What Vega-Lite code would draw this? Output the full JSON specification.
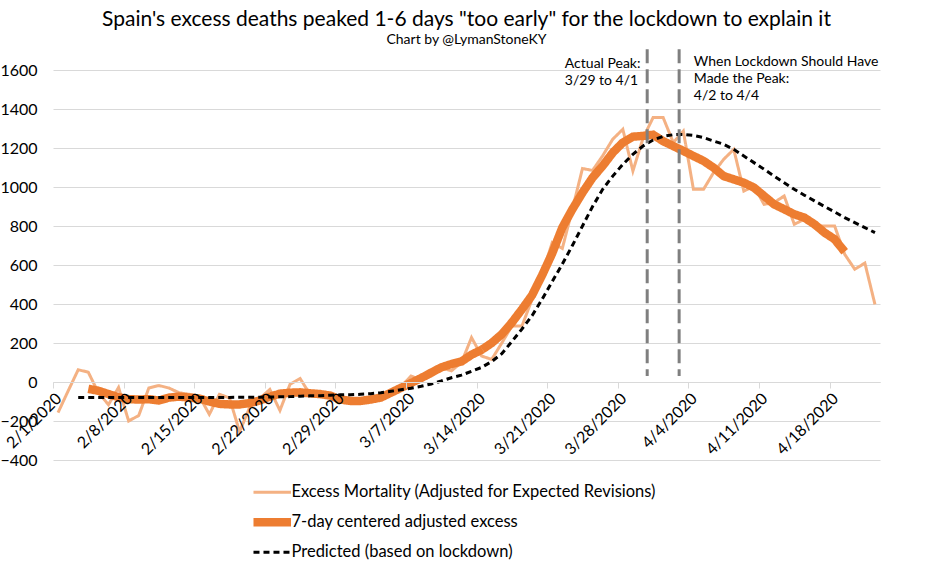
{
  "$schema": "https://vega.github.io/schema/vega-lite/v6.json",
  "width": 827,
  "height": 390,
  "autosize": "none",
  "padding": {"left": 53, "top": 70, "right": 50, "bottom": 105},
  "background": "white",
  "title": {
    "text": "Spain's excess deaths peaked 1-6 days \"too early\" for the lockdown to explain it",
    "subtitle": "Chart by @LymanStoneKY",
    "anchor": "middle",
    "frame": "group",
    "font": "Lato",
    "fontSize": 21,
    "fontWeight": "normal",
    "color": "black",
    "subtitleFont": "Lato",
    "subtitleFontSize": 14,
    "subtitleColor": "black",
    "subtitlePadding": 3,
    "offset": 1
  },
  "config": {
    "view": {"stroke": null},
    "font": "Lato",
    "axisY": {
      "labelOverlap": false,
      "domain": false,
      "ticks": false,
      "grid": true,
      "gridColor": "#d9d9d9",
      "gridWidth": 1,
      "labelFont": "Lato",
      "labelFontSize": 16,
      "labelColor": "black",
      "labelPadding": 16,
      "title": null
    },
    "legend": {
      "labelFont": "Lato",
      "labelFontSize": 16.5,
      "labelColor": "black",
      "labelLimit": 0,
      "symbolType": "M-8,0H8",
      "symbolSize": 22,
      "symbolStrokeWidth": 3,
      "rowPadding": 4,
      "labelOffset": 11
    }
  },
  "datasets": {
    "series": [
      {"d": "2020-02-01", "s": "E", "v": -157},
      {"d": "2020-02-02", "s": "E", "v": -46},
      {"d": "2020-02-03", "s": "E", "v": 63},
      {"d": "2020-02-04", "s": "E", "v": 50},
      {"d": "2020-02-05", "s": "E", "v": -55},
      {"d": "2020-02-06", "s": "E", "v": -116},
      {"d": "2020-02-07", "s": "E", "v": -28},
      {"d": "2020-02-08", "s": "E", "v": -200},
      {"d": "2020-02-09", "s": "E", "v": -172},
      {"d": "2020-02-10", "s": "E", "v": -31},
      {"d": "2020-02-11", "s": "E", "v": -18},
      {"d": "2020-02-12", "s": "E", "v": -31},
      {"d": "2020-02-13", "s": "E", "v": -55},
      {"d": "2020-02-14", "s": "E", "v": -63},
      {"d": "2020-02-15", "s": "E", "v": -72},
      {"d": "2020-02-16", "s": "E", "v": -166},
      {"d": "2020-02-17", "s": "E", "v": -63},
      {"d": "2020-02-18", "s": "E", "v": -82},
      {"d": "2020-02-19", "s": "E", "v": -255},
      {"d": "2020-02-20", "s": "E", "v": -130},
      {"d": "2020-02-21", "s": "E", "v": -85},
      {"d": "2020-02-22", "s": "E", "v": -38},
      {"d": "2020-02-23", "s": "E", "v": -146},
      {"d": "2020-02-24", "s": "E", "v": -12},
      {"d": "2020-02-25", "s": "E", "v": 18},
      {"d": "2020-02-26", "s": "E", "v": -65},
      {"d": "2020-02-27", "s": "E", "v": -65},
      {"d": "2020-02-28", "s": "E", "v": -72},
      {"d": "2020-02-29", "s": "E", "v": -95},
      {"d": "2020-03-01", "s": "E", "v": -105},
      {"d": "2020-03-02", "s": "E", "v": -100},
      {"d": "2020-03-03", "s": "E", "v": -90},
      {"d": "2020-03-04", "s": "E", "v": -80},
      {"d": "2020-03-05", "s": "E", "v": -55},
      {"d": "2020-03-06", "s": "E", "v": -25},
      {"d": "2020-03-07", "s": "E", "v": 31},
      {"d": "2020-03-08", "s": "E", "v": 10},
      {"d": "2020-03-09", "s": "E", "v": 30},
      {"d": "2020-03-10", "s": "E", "v": 74},
      {"d": "2020-03-11", "s": "E", "v": 57},
      {"d": "2020-03-12", "s": "E", "v": 100},
      {"d": "2020-03-13", "s": "E", "v": 228},
      {"d": "2020-03-14", "s": "E", "v": 133},
      {"d": "2020-03-15", "s": "E", "v": 116},
      {"d": "2020-03-16", "s": "E", "v": 200},
      {"d": "2020-03-17", "s": "E", "v": 287},
      {"d": "2020-03-18", "s": "E", "v": 287},
      {"d": "2020-03-19", "s": "E", "v": 424},
      {"d": "2020-03-20", "s": "E", "v": 552},
      {"d": "2020-03-21", "s": "E", "v": 715},
      {"d": "2020-03-22", "s": "E", "v": 685},
      {"d": "2020-03-23", "s": "E", "v": 886},
      {"d": "2020-03-24", "s": "E", "v": 1095},
      {"d": "2020-03-25", "s": "E", "v": 1085},
      {"d": "2020-03-26", "s": "E", "v": 1160},
      {"d": "2020-03-27", "s": "E", "v": 1245},
      {"d": "2020-03-28", "s": "E", "v": 1296},
      {"d": "2020-03-29", "s": "E", "v": 1082},
      {"d": "2020-03-30", "s": "E", "v": 1250},
      {"d": "2020-03-31", "s": "E", "v": 1356},
      {"d": "2020-04-01", "s": "E", "v": 1356},
      {"d": "2020-04-02", "s": "E", "v": 1228},
      {"d": "2020-04-03", "s": "E", "v": 1287},
      {"d": "2020-04-04", "s": "E", "v": 988},
      {"d": "2020-04-05", "s": "E", "v": 988},
      {"d": "2020-04-06", "s": "E", "v": 1074},
      {"d": "2020-04-07", "s": "E", "v": 1142},
      {"d": "2020-04-08", "s": "E", "v": 1193},
      {"d": "2020-04-09", "s": "E", "v": 979},
      {"d": "2020-04-10", "s": "E", "v": 1005},
      {"d": "2020-04-11", "s": "E", "v": 911},
      {"d": "2020-04-12", "s": "E", "v": 920},
      {"d": "2020-04-13", "s": "E", "v": 954},
      {"d": "2020-04-14", "s": "E", "v": 809},
      {"d": "2020-04-15", "s": "E", "v": 834},
      {"d": "2020-04-16", "s": "E", "v": 800},
      {"d": "2020-04-17", "s": "E", "v": 800},
      {"d": "2020-04-18", "s": "E", "v": 800},
      {"d": "2020-04-19", "s": "E", "v": 655},
      {"d": "2020-04-20", "s": "E", "v": 578},
      {"d": "2020-04-21", "s": "E", "v": 610},
      {"d": "2020-04-22", "s": "E", "v": 398},
      {"d": "2020-02-04", "s": "S", "v": -35},
      {"d": "2020-02-05", "s": "S", "v": -45},
      {"d": "2020-02-06", "s": "S", "v": -62},
      {"d": "2020-02-07", "s": "S", "v": -78},
      {"d": "2020-02-08", "s": "S", "v": -88},
      {"d": "2020-02-09", "s": "S", "v": -90},
      {"d": "2020-02-10", "s": "S", "v": -88},
      {"d": "2020-02-11", "s": "S", "v": -95},
      {"d": "2020-02-12", "s": "S", "v": -80},
      {"d": "2020-02-13", "s": "S", "v": -75},
      {"d": "2020-02-14", "s": "S", "v": -80},
      {"d": "2020-02-15", "s": "S", "v": -85},
      {"d": "2020-02-16", "s": "S", "v": -100},
      {"d": "2020-02-17", "s": "S", "v": -112},
      {"d": "2020-02-18", "s": "S", "v": -115},
      {"d": "2020-02-19", "s": "S", "v": -115},
      {"d": "2020-02-20", "s": "S", "v": -108},
      {"d": "2020-02-21", "s": "S", "v": -95},
      {"d": "2020-02-22", "s": "S", "v": -75},
      {"d": "2020-02-23", "s": "S", "v": -60},
      {"d": "2020-02-24", "s": "S", "v": -55},
      {"d": "2020-02-25", "s": "S", "v": -53},
      {"d": "2020-02-26", "s": "S", "v": -58},
      {"d": "2020-02-27", "s": "S", "v": -62},
      {"d": "2020-02-28", "s": "S", "v": -70},
      {"d": "2020-02-29", "s": "S", "v": -90},
      {"d": "2020-03-01", "s": "S", "v": -97},
      {"d": "2020-03-02", "s": "S", "v": -97},
      {"d": "2020-03-03", "s": "S", "v": -90},
      {"d": "2020-03-04", "s": "S", "v": -80},
      {"d": "2020-03-05", "s": "S", "v": -55},
      {"d": "2020-03-06", "s": "S", "v": -30},
      {"d": "2020-03-07", "s": "S", "v": -5},
      {"d": "2020-03-08", "s": "S", "v": 20},
      {"d": "2020-03-09", "s": "S", "v": 48},
      {"d": "2020-03-10", "s": "S", "v": 75},
      {"d": "2020-03-11", "s": "S", "v": 92},
      {"d": "2020-03-12", "s": "S", "v": 105},
      {"d": "2020-03-13", "s": "S", "v": 140},
      {"d": "2020-03-14", "s": "S", "v": 165},
      {"d": "2020-03-15", "s": "S", "v": 200},
      {"d": "2020-03-16", "s": "S", "v": 245},
      {"d": "2020-03-17", "s": "S", "v": 305},
      {"d": "2020-03-18", "s": "S", "v": 373},
      {"d": "2020-03-19", "s": "S", "v": 445},
      {"d": "2020-03-20", "s": "S", "v": 548},
      {"d": "2020-03-21", "s": "S", "v": 660},
      {"d": "2020-03-22", "s": "S", "v": 792},
      {"d": "2020-03-23", "s": "S", "v": 886},
      {"d": "2020-03-24", "s": "S", "v": 971},
      {"d": "2020-03-25", "s": "S", "v": 1048},
      {"d": "2020-03-26", "s": "S", "v": 1108},
      {"d": "2020-03-27", "s": "S", "v": 1176},
      {"d": "2020-03-28", "s": "S", "v": 1228},
      {"d": "2020-03-29", "s": "S", "v": 1258},
      {"d": "2020-03-30", "s": "S", "v": 1262},
      {"d": "2020-03-31", "s": "S", "v": 1268},
      {"d": "2020-04-01", "s": "S", "v": 1235},
      {"d": "2020-04-02", "s": "S", "v": 1210},
      {"d": "2020-04-03", "s": "S", "v": 1185},
      {"d": "2020-04-04", "s": "S", "v": 1159},
      {"d": "2020-04-05", "s": "S", "v": 1134},
      {"d": "2020-04-06", "s": "S", "v": 1099},
      {"d": "2020-04-07", "s": "S", "v": 1056},
      {"d": "2020-04-08", "s": "S", "v": 1039},
      {"d": "2020-04-09", "s": "S", "v": 1022},
      {"d": "2020-04-10", "s": "S", "v": 997},
      {"d": "2020-04-11", "s": "S", "v": 954},
      {"d": "2020-04-12", "s": "S", "v": 911},
      {"d": "2020-04-13", "s": "S", "v": 886},
      {"d": "2020-04-14", "s": "S", "v": 860},
      {"d": "2020-04-15", "s": "S", "v": 843},
      {"d": "2020-04-16", "s": "S", "v": 809},
      {"d": "2020-04-17", "s": "S", "v": 766},
      {"d": "2020-04-18", "s": "S", "v": 732},
      {"d": "2020-04-19", "s": "S", "v": 668},
      {"d": "2020-02-03", "s": "P", "v": -80},
      {"d": "2020-02-04", "s": "P", "v": -80},
      {"d": "2020-02-05", "s": "P", "v": -80},
      {"d": "2020-02-06", "s": "P", "v": -80},
      {"d": "2020-02-07", "s": "P", "v": -80},
      {"d": "2020-02-08", "s": "P", "v": -80},
      {"d": "2020-02-09", "s": "P", "v": -80},
      {"d": "2020-02-10", "s": "P", "v": -80},
      {"d": "2020-02-11", "s": "P", "v": -80},
      {"d": "2020-02-12", "s": "P", "v": -80},
      {"d": "2020-02-13", "s": "P", "v": -80},
      {"d": "2020-02-14", "s": "P", "v": -80},
      {"d": "2020-02-15", "s": "P", "v": -79},
      {"d": "2020-02-16", "s": "P", "v": -79},
      {"d": "2020-02-17", "s": "P", "v": -79},
      {"d": "2020-02-18", "s": "P", "v": -79},
      {"d": "2020-02-19", "s": "P", "v": -78},
      {"d": "2020-02-20", "s": "P", "v": -78},
      {"d": "2020-02-21", "s": "P", "v": -78},
      {"d": "2020-02-22", "s": "P", "v": -77},
      {"d": "2020-02-23", "s": "P", "v": -76},
      {"d": "2020-02-24", "s": "P", "v": -75},
      {"d": "2020-02-25", "s": "P", "v": -73},
      {"d": "2020-02-26", "s": "P", "v": -71},
      {"d": "2020-02-27", "s": "P", "v": -70},
      {"d": "2020-02-28", "s": "P", "v": -68},
      {"d": "2020-02-29", "s": "P", "v": -66},
      {"d": "2020-03-01", "s": "P", "v": -65},
      {"d": "2020-03-02", "s": "P", "v": -63},
      {"d": "2020-03-03", "s": "P", "v": -60},
      {"d": "2020-03-04", "s": "P", "v": -55},
      {"d": "2020-03-05", "s": "P", "v": -48},
      {"d": "2020-03-06", "s": "P", "v": -40},
      {"d": "2020-03-07", "s": "P", "v": -32},
      {"d": "2020-03-08", "s": "P", "v": -22},
      {"d": "2020-03-09", "s": "P", "v": -10},
      {"d": "2020-03-10", "s": "P", "v": 5},
      {"d": "2020-03-11", "s": "P", "v": 22},
      {"d": "2020-03-12", "s": "P", "v": 35},
      {"d": "2020-03-13", "s": "P", "v": 55},
      {"d": "2020-03-14", "s": "P", "v": 75},
      {"d": "2020-03-15", "s": "P", "v": 105},
      {"d": "2020-03-16", "s": "P", "v": 145},
      {"d": "2020-03-17", "s": "P", "v": 208},
      {"d": "2020-03-18", "s": "P", "v": 272},
      {"d": "2020-03-19", "s": "P", "v": 340},
      {"d": "2020-03-20", "s": "P", "v": 425},
      {"d": "2020-03-21", "s": "P", "v": 515},
      {"d": "2020-03-22", "s": "P", "v": 605},
      {"d": "2020-03-23", "s": "P", "v": 700},
      {"d": "2020-03-24", "s": "P", "v": 800},
      {"d": "2020-03-25", "s": "P", "v": 900},
      {"d": "2020-03-26", "s": "P", "v": 988},
      {"d": "2020-03-27", "s": "P", "v": 1056},
      {"d": "2020-03-28", "s": "P", "v": 1116},
      {"d": "2020-03-29", "s": "P", "v": 1168},
      {"d": "2020-03-30", "s": "P", "v": 1210},
      {"d": "2020-03-31", "s": "P", "v": 1241},
      {"d": "2020-04-01", "s": "P", "v": 1260},
      {"d": "2020-04-02", "s": "P", "v": 1268},
      {"d": "2020-04-03", "s": "P", "v": 1270},
      {"d": "2020-04-04", "s": "P", "v": 1265},
      {"d": "2020-04-05", "s": "P", "v": 1253},
      {"d": "2020-04-06", "s": "P", "v": 1236},
      {"d": "2020-04-07", "s": "P", "v": 1219},
      {"d": "2020-04-08", "s": "P", "v": 1193},
      {"d": "2020-04-09", "s": "P", "v": 1159},
      {"d": "2020-04-10", "s": "P", "v": 1125},
      {"d": "2020-04-11", "s": "P", "v": 1091},
      {"d": "2020-04-12", "s": "P", "v": 1056},
      {"d": "2020-04-13", "s": "P", "v": 1022},
      {"d": "2020-04-14", "s": "P", "v": 988},
      {"d": "2020-04-15", "s": "P", "v": 958},
      {"d": "2020-04-16", "s": "P", "v": 929},
      {"d": "2020-04-17", "s": "P", "v": 900},
      {"d": "2020-04-18", "s": "P", "v": 872},
      {"d": "2020-04-19", "s": "P", "v": 843},
      {"d": "2020-04-20", "s": "P", "v": 817},
      {"d": "2020-04-21", "s": "P", "v": 792},
      {"d": "2020-04-22", "s": "P", "v": 766}
    ],
    "peaks": [
      {"d": "2020-03-30T22:00:00Z", "v": 1706, "v2": 31},
      {"d": "2020-04-03T02:00:00Z", "v": 1706, "v2": 31}
    ],
    "notes": [
      {"d": "2020-03-22T18:00:00Z", "v": 1665, "t": "Actual Peak:\n3/29 to 4/1"},
      {"d": "2020-04-04T13:00:00Z", "v": 1675, "t": "When Lockdown Should Have\nMade the Peak:\n4/2 to 4/4"}
    ]
  },
  "encoding": {
    "y": {
      "field": "v",
      "type": "quantitative",
      "title": null,
      "scale": {"domain": [-400, 1600], "nice": false, "zero": false},
      "axis": {
        "tickCount": 10,
        "labelOverlap": false,
        "labelSeparation": 0,
        "format": "d"
      }
    }
  },
  "layer": [
    {
      "data": {"name": "series"},
      "mark": {"type": "line", "clip": false},
      "encoding": {
        "x": {
          "field": "d",
          "timeUnit": "utcyearmonthdate",
          "type": "temporal",
          "bandPosition": 0.5,
          "title": null,
          "scale": {
            "type": "utc",
            "domain": [
              {"year": 2020, "month": 2, "date": 1, "utc": true},
              {"year": 2020, "month": 4, "date": 23, "utc": true}
            ],
            "nice": false
          },
          "axis": {
            "orient": "bottom",
            "offset": -78,
            "zindex": 1,
            "grid": false,
            "format": "%-m/%-d/%Y",
            "values": [
              {"year": 2020, "month": 2, "date": 1, "utc": true},
              {"year": 2020, "month": 2, "date": 8, "utc": true},
              {"year": 2020, "month": 2, "date": 15, "utc": true},
              {"year": 2020, "month": 2, "date": 22, "utc": true},
              {"year": 2020, "month": 2, "date": 29, "utc": true},
              {"year": 2020, "month": 3, "date": 7, "utc": true},
              {"year": 2020, "month": 3, "date": 14, "utc": true},
              {"year": 2020, "month": 3, "date": 21, "utc": true},
              {"year": 2020, "month": 3, "date": 28, "utc": true},
              {"year": 2020, "month": 4, "date": 4, "utc": true},
              {"year": 2020, "month": 4, "date": 11, "utc": true},
              {"year": 2020, "month": 4, "date": 18, "utc": true}
            ],
            "labelAngle": -45,
            "labelFont": "Lato",
            "labelFontSize": 16,
            "labelColor": "black",
            "labelOverlap": false,
            "labelFlush": false,
            "labelBound": false,
            "labelPadding": 2,
            "domainColor": "#d9d9d9",
            "domainWidth": 1,
            "tickColor": "#d9d9d9",
            "tickSize": 6
          }
        },
        "color": {
          "field": "s",
          "type": "nominal",
          "scale": {"domain": ["E", "S", "P"], "range": ["#F4B183", "#ED7D31", "#000000"]},
          "legend": {
            "title": null,
            "orient": "none",
            "legendX": 211,
            "legendY": 414,
            "direction": "vertical",
            "labelExpr": "datum.value == 'E' ? 'Excess Mortality (Adjusted for Expected Revisions)' : datum.value == 'S' ? '7-day centered adjusted excess' : 'Predicted (based on lockdown)'",
            "encode": {
              "symbols": {
                "update": {
                  "strokeWidth": {"signal": "datum.value === 'S' ? 8.5 : 3"},
                  "strokeDash": {"signal": "datum.value === 'P' ? [6, 4] : [1, 0]"}
                }
              }
            }
          }
        },
        "strokeWidth": {
          "field": "s",
          "type": "nominal",
          "scale": {"type": "ordinal", "domain": ["E", "S", "P"], "range": [3, 8.5, 3]},
          "legend": null
        },
        "strokeDash": {
          "field": "s",
          "type": "nominal",
          "scale": {"domain": ["E", "S", "P"], "range": [[1, 0], [1, 0], [6, 4]]},
          "legend": null
        }
      }
    },
    {
      "data": {"name": "peaks"},
      "mark": {"type": "rule", "clip": false, "color": "#7f7f7f", "strokeWidth": 3, "strokeDash": [14, 6]},
      "encoding": {
        "x": {"field": "d", "type": "temporal", "scale": {"type": "utc"}},
        "y2": {"field": "v2"}
      }
    },
    {
      "data": {"name": "notes"},
      "mark": {"type": "text", "align": "left", "baseline": "top", "lineBreak": "\n", "font": "Lato", "fontSize": 14, "lineHeight": 17, "color": "black", "clip": false},
      "encoding": {
        "x": {"field": "d", "type": "temporal", "scale": {"type": "utc"}},
        "text": {"field": "t"}
      }
    }
  ]
}
